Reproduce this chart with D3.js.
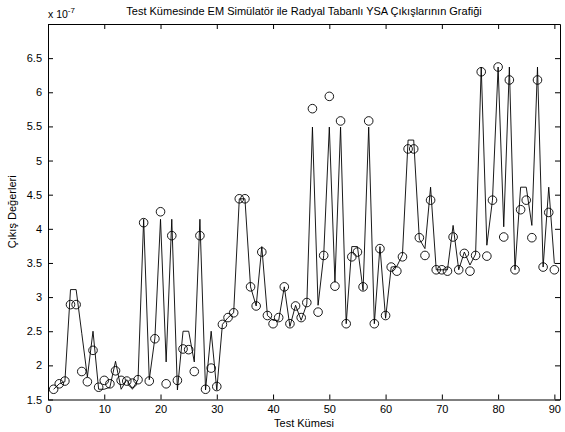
<!DOCTYPE html>
<html>
<head>
<meta charset="utf-8">
<script src="https://cdn.jsdelivr.net/npm/d3@7"></script>
<style>
  body { margin: 0; background: #fff; }
  text { font-family: "Liberation Sans", Arial, sans-serif; fill: #000; }
</style>
</head>
<body>
<svg></svg>
<script>
// test set index (x axis)
const testIndex = d3.range(1, 91);

// EM simulator outputs (circles), x 1e-7
const emValues = [
    1.65, 1.73, 1.77, 2.89, 2.89, 1.91, 1.76, 2.22, 1.68, 1.78,
    1.73, 1.92, 1.78, 1.77, 1.74, 1.79, 4.09, 1.77, 2.39, 4.25,
    1.73, 3.90, 1.78, 2.24, 2.23, 1.91, 3.90, 1.65, 1.96, 1.69,
    2.60, 2.70, 2.77, 4.44, 4.44, 3.15, 2.87, 3.66, 2.73, 2.61,
    2.70, 3.15, 2.61, 2.87, 2.70, 2.92, 5.76, 2.78, 3.61, 5.94,
    3.16, 5.58, 2.61, 3.59, 3.66, 3.15, 5.58, 2.61, 3.71, 2.73,
    3.44, 3.38, 3.59, 5.17, 5.17, 3.87, 3.61, 4.42, 3.40, 3.40,
    3.38, 3.88, 3.40, 3.64, 3.38, 3.61, 6.30, 3.60, 4.42, 6.37,
    3.88, 6.18, 3.40, 4.28, 4.42, 3.87, 6.18, 3.44, 4.24, 3.40
];

// radial basis ANN (YSA) outputs (line), x 1e-7
const ysaValues = [
    1.65, 1.73, 1.76, 3.11, 3.11, 2.47, 1.83, 2.50, 1.65, 1.65,
    1.68, 2.06, 1.65, 1.79, 1.65, 1.79, 4.14, 1.79, 2.40, 4.14,
    2.05, 4.14, 1.64, 2.50, 2.50, 2.05, 4.14, 1.64, 2.50, 1.64,
    2.60, 2.70, 2.77, 4.44, 4.44, 3.15, 2.87, 3.74, 2.73, 2.66,
    2.66, 3.15, 2.57, 2.88, 2.66, 2.90, 5.49, 2.88, 3.61, 5.49,
    3.22, 5.49, 2.61, 3.74, 3.74, 3.10, 5.49, 2.61, 3.74, 2.69,
    3.44, 3.45, 3.62, 5.30, 5.30, 3.85, 3.71, 4.61, 3.40, 3.40,
    3.40, 4.05, 3.40, 3.66, 3.47, 3.63, 6.37, 3.76, 4.42, 6.37,
    4.03, 6.37, 3.40, 4.61, 4.61, 4.05, 6.37, 3.44, 4.61, 3.49
];

const xTicks = [0, 10, 20, 30, 40, 50, 60, 70, 80, 90];
const yTicks = [1.5, 2, 2.5, 3, 3.5, 4, 4.5, 5, 5.5, 6, 6.5];

const width = 565;
const height = 432;
const margin = { top: 24, right: 5, bottom: 32.5, left: 48 };

const svg = d3
    .select('svg')
    .attr('width', width)
    .attr('height', height);

const x = d3
    .scaleLinear()
    .domain([0, 91])
    .range([margin.left, width - margin.right]);

const y = d3
    .scaleLinear()
    .domain([1.5, 7])
    .range([height - margin.bottom, margin.top]);

// axes box (MATLAB style, ticks inside)
const box = svg.append('g');
box.append('g')
    .attr('transform', `translate(0,${y(1.5)})`)
    .call(d3.axisBottom(x).tickValues(xTicks).tickSizeInner(-5).tickSizeOuter(0).tickPadding(6));
box.append('g')
    .attr('transform', `translate(0,${y(7)})`)
    .call(d3.axisTop(x).tickValues(xTicks).tickSizeInner(-5).tickSizeOuter(0).tickFormat(''));
box.append('g')
    .attr('transform', `translate(${x(0)},0)`)
    .call(d3.axisLeft(y).tickValues(yTicks).tickSizeInner(-5).tickSizeOuter(0).tickPadding(6).tickFormat(d3.format('')));
box.append('g')
    .attr('transform', `translate(${x(91)},0)`)
    .call(d3.axisRight(y).tickValues(yTicks).tickSizeInner(-5).tickSizeOuter(0).tickFormat(''));

box.selectAll('.domain').attr('stroke', '#000');
box.selectAll('.tick line').attr('stroke', '#000');
box.selectAll('.tick text')
    .style('font-size', '11px')
    .style('font-family', '"Liberation Sans", Arial, sans-serif');

// YSA line
const line = d3
    .line()
    .x((d, i) => x(testIndex[i]))
    .y((d) => y(d));

svg.append('path')
    .datum(ysaValues)
    .attr('d', line)
    .attr('fill', 'none')
    .attr('stroke', '#000')
    .attr('stroke-width', 0.9);

// EM circles
svg.selectAll('circle.em')
    .data(emValues)
    .enter()
    .append('circle')
    .attr('class', 'em')
    .attr('cx', (d, i) => x(testIndex[i]))
    .attr('cy', (d) => y(d))
    .attr('r', 4.3)
    .attr('fill', 'none')
    .attr('stroke', '#000')
    .attr('stroke-width', 0.9);

// exponent label
const expo = svg.append('text')
    .attr('x', x(0))
    .attr('y', 18)
    .style('font-size', '10.5px');
expo.append('tspan').text('x 10');
expo.append('tspan').attr('dy', -5).style('font-size', '8px').text('-7');

// title and labels
svg.append('text')
    .attr('x', (x(0) + x(91)) / 2)
    .attr('y', 15)
    .attr('text-anchor', 'middle')
    .style('font-size', '11px')
    .text('Test Kümesinde EM Simülatör ile Radyal Tabanlı YSA Çıkışlarının Grafiği');

svg.append('text')
    .attr('x', (x(0) + x(91)) / 2)
    .attr('y', 427)
    .attr('text-anchor', 'middle')
    .style('font-size', '11px')
    .text('Test Kümesi');

svg.append('text')
    .attr('transform', `translate(16,${(y(1.5) + y(7)) / 2}) rotate(-90)`)
    .attr('text-anchor', 'middle')
    .style('font-size', '11px')
    .text('Çıkış Değerleri');
</script>
</body>
</html>
